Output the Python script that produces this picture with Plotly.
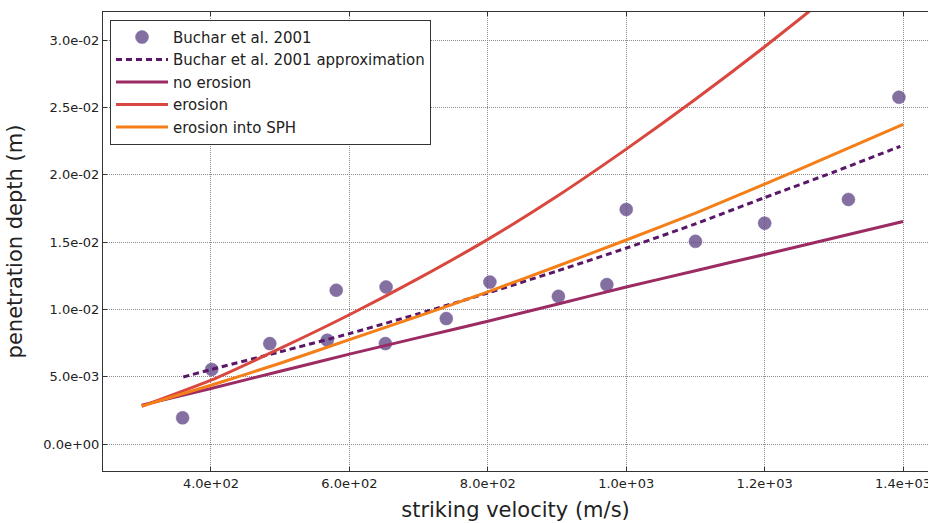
import plotly.graph_objects as go

# Experimental data (Buchar et al. 2001)
exp_v = [359, 401, 485, 568, 581, 653, 652, 740, 803, 902, 972, 1000, 1100, 1200, 1321, 1394]
exp_p = [0.00195, 0.00554, 0.00746, 0.00771, 0.01142, 0.01166, 0.00746, 0.00932, 0.01203,
         0.01097, 0.01184, 0.01742, 0.01505, 0.0164, 0.01816, 0.02575]

# Approximation
approx_v = [360, 400, 500, 600, 700, 800, 900, 1000, 1100, 1200, 1300, 1396]
approx_p = [0.00498, 0.00553, 0.00685, 0.0082, 0.00968, 0.01122, 0.01285, 0.01455,
            0.01635, 0.0183, 0.0202, 0.02211]

# Simulations
sim_v = [300, 400, 500, 600, 700, 800, 900, 1000, 1100, 1200, 1300, 1400]
no_erosion = [0.00289, 0.00413, 0.0054, 0.00668, 0.0079, 0.00912, 0.01038, 0.01166,
              0.01287, 0.01408, 0.0153, 0.01653]
erosion = [0.0028, 0.00474, 0.0071, 0.0096, 0.0123, 0.0152, 0.0184, 0.0219,
           0.0256, 0.0295, 0.0336, 0.0379]
erosion_sph = [0.00282, 0.00437, 0.0060, 0.00775, 0.0095, 0.0113, 0.0132, 0.01515,
               0.01715, 0.0193, 0.0215, 0.02374]

x_tickvals = [400, 600, 800, 1000, 1200, 1400]
x_ticktext = ["4.0e+02", "6.0e+02", "8.0e+02", "1.0e+03", "1.2e+03", "1.4e+03"]
y_tickvals = [0.0, 0.005, 0.01, 0.015, 0.02, 0.025, 0.03]
y_ticktext = ["0.0e+00", "5.0e-03", "1.0e-02", "1.5e-02", "2.0e-02", "2.5e-02", "3.0e-02"]

fig = go.Figure()
fig.add_trace(go.Scatter(x=exp_v, y=exp_p, mode="markers", name="Buchar et al. 2001",
                         marker=dict(size=13, color="rgba(96,72,134,0.78)",
                                     line=dict(width=0.8, color="rgba(120,100,160,0.6)"))))
fig.add_trace(go.Scatter(x=approx_v, y=approx_p, mode="lines", name="Buchar et al. 2001 approximation",
                         line=dict(color="#5a1768", width=3, dash="6px,4px", shape="spline", smoothing=0.6)))
fig.add_trace(go.Scatter(x=sim_v, y=no_erosion, mode="lines", name="no erosion",
                         line=dict(color="#9c2a63", width=3, shape="spline", smoothing=0.6)))
fig.add_trace(go.Scatter(x=sim_v, y=erosion, mode="lines", name="erosion",
                         line=dict(color="#d9483f", width=3, shape="spline", smoothing=0.6)))
fig.add_trace(go.Scatter(x=sim_v, y=erosion_sph, mode="lines", name="erosion into SPH",
                         line=dict(color="#f47e17", width=3, shape="spline", smoothing=0.6)))

axis_common = dict(
    showline=True, linecolor="#333333", linewidth=1,
    showgrid=True, gridcolor="#8c8c8c", griddash="1px,1px", gridwidth=1,
    ticks="inside", ticklen=4, tickcolor="#333333",
    tickfont=dict(family="DejaVu Sans", size=13, color="#222222"),
    zeroline=False, ticklabeloverflow="allow", automargin=False,
)

fig.update_layout(
    width=928, height=523,
    margin=dict(l=103, r=0, t=12, b=52),
    paper_bgcolor="white", plot_bgcolor="white",
    font=dict(family="DejaVu Sans", color="#222222"),
    showlegend=True,
    legend=dict(x=0.0085, y=0.983, xanchor="left", yanchor="top",
                bgcolor="white", bordercolor="#333333", borderwidth=1,
                font=dict(family="DejaVu Sans", size=15, color="#222222"),
                tracegroupgap=0, itemwidth=52),
    xaxis=dict(range=[244, 1436], tickvals=x_tickvals, ticktext=x_ticktext,
               mirror="ticks",
               title=dict(text="striking velocity (m/s)", standoff=12,
                          font=dict(family="DejaVu Sans", size=21, color="#222222")),
               **axis_common),
    yaxis=dict(range=[-0.002, 0.03208], tickvals=y_tickvals, ticktext=y_ticktext,
               title=dict(text="penetration depth (m)", standoff=14,
                          font=dict(family="DejaVu Sans", size=21, color="#222222")),
               **axis_common),
)

fig.write_html("out.html")
